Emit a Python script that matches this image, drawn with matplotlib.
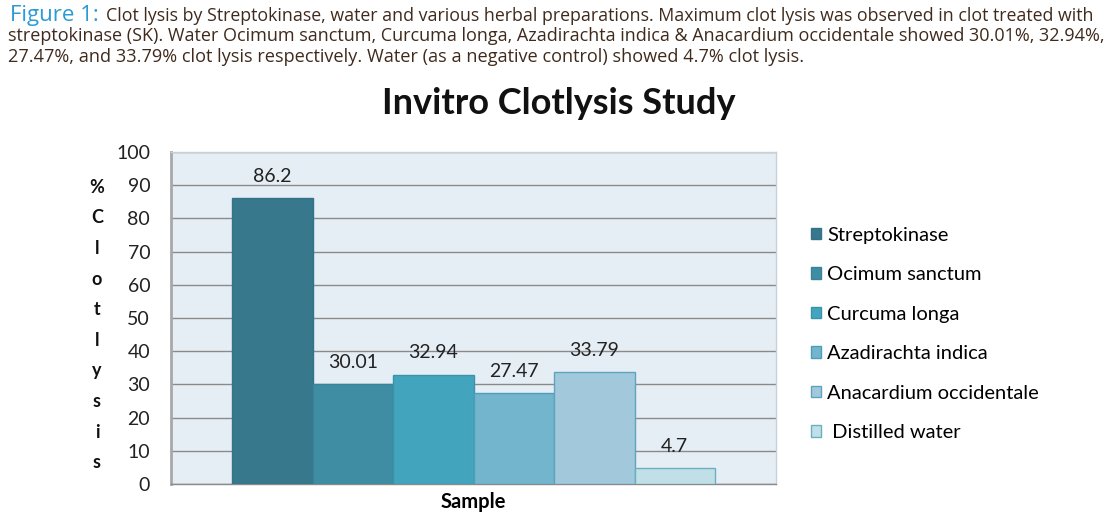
import matplotlib
matplotlib.use("Agg")
import matplotlib.pyplot as plt
from matplotlib.patches import Patch

samples = ["Streptokinase", "Ocimum sanctum", "Curcuma longa",
           "Azadirachta indica", "Anacardium occidentale", " Distilled water"]
values = [86.2, 30.01, 32.94, 27.47, 33.79, 4.7]
value_labels = ["86.2", "30.01", "32.94", "27.47", "33.79", "4.7"]
colors = ["#37788C", "#3E8DA2", "#43A4BE", "#73B5CD", "#A2C9DB", "#C0DFE6"]
edges = ["#34728A", "#3A8499", "#3A93AA", "#4F9DB8", "#5FA3BD", "#6AAFC3"]
yticks = [0, 10, 20, 30, 40, 50, 60, 70, 80, 90, 100]

FONT = "Lato"
plt.rcParams['font.family'] = [FONT, 'DejaVu Sans']

fig = plt.figure(figsize=(11.14, 5.17), dpi=100)
fig.patch.set_facecolor("white")

# Caption
cap_color = "#3F2A1C"
blue = "#2C9AD3"
capfam = ["Open Sans", "DejaVu Sans"]
fig.text(10/1114, 1-15/517, "Figure 1:", color=blue, fontsize=16, va="center", ha="left",
         family=capfam)
fig.text(106/1114, 1-16/517, "Clot lysis by Streptokinase, water and various herbal preparations. Maximum clot lysis was observed in clot treated with",
         color=cap_color, fontsize=12.8, va="center", ha="left", family=capfam)
fig.text(8/1114, 1-36/517, "streptokinase (SK). Water Ocimum sanctum, Curcuma longa, Azadirachta indica & Anacardium occidentale showed 30.01%, 32.94%,",
         color=cap_color, fontsize=13, va="center", ha="left", family=capfam)
fig.text(8/1114, 1-57/517, "27.47%, and 33.79% clot lysis respectively. Water (as a negative control) showed 4.7% clot lysis.",
         color=cap_color, fontsize=13.1, va="center", ha="left", family=capfam)

# Title
fig.text(559/1114, 1-104/517, "Invitro Clotlysis Study", fontsize=26, fontweight="bold",
         ha="center", va="center", color="#111111")

ax = fig.add_axes([171/1114, 1-484/517, 605/1114, 332/517])
ax.set_facecolor("#E6EEF5")
ax.set_xlim(-0.5, 0.5)
ax.set_ylim(0, 100)
ax.set_yticks(yticks)
ax.set_yticklabels([str(t) for t in yticks], fontsize=14, color="#222222")
ax.tick_params(axis="y", length=0, pad=15)
ax.set_xticks([])
ax.grid(axis="y", color="#8A8A8A", linewidth=1)
ax.set_axisbelow(True)
for s in ["top", "right"]:
    ax.spines[s].set_color("#C8D0D8")
    ax.spines[s].set_linewidth(1)
ax.spines["left"].set_color("#A8A8A8")
ax.spines["left"].set_linewidth(2)
ax.spines["bottom"].set_color("#8A8A8A")
ax.spines["bottom"].set_linewidth(1)

w = 80.5 / 605
n = len(values)
xs = [(i - (n - 1) / 2) * w for i in range(n)]
bars = ax.bar(xs, values, width=w, color=colors, edgecolor=edges, linewidth=1, zorder=3)
for x, v, lab in zip(xs, values, value_labels):
    ax.annotate(lab, (x, v), xytext=(0, 9.5), textcoords="offset points",
                ha="center", va="bottom", fontsize=14, color="#222222", zorder=4)

ax.set_xlabel("Sample", fontsize=14.5, fontweight="bold", labelpad=6)

# Vertical stacked y label
fig.text(97/1114, 1-325/517, "\n".join("%Clotlysis"), fontsize=13, fontweight="bold",
         ha="center", va="center", linespacing=1.97, color="#111111")

handles = [Patch(facecolor=c, edgecolor=e, linewidth=1) for c, e in zip(colors, edges)]
leg = fig.legend(handles, samples, loc="center left", bbox_to_anchor=(793/1114, 1-334/517),
                 frameon=False, fontsize=14.5, labelspacing=1.12, handlelength=0.5,
                 handleheight=0.5, handletextpad=0.3)

fig.savefig("out.png", dpi=100)
